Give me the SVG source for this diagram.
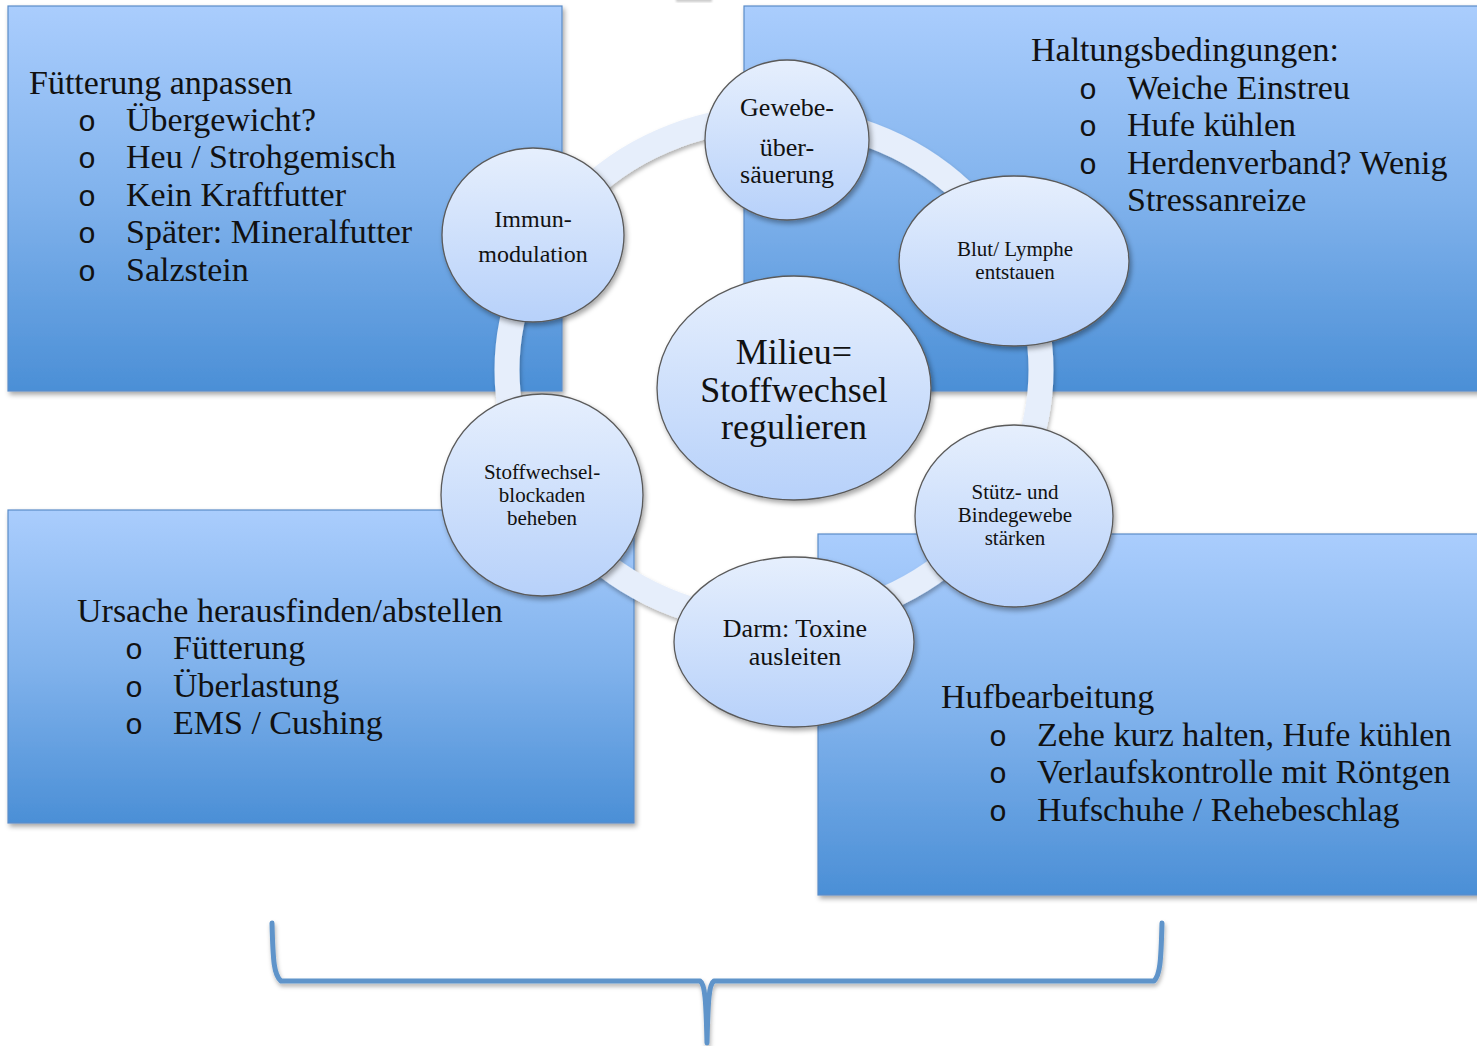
<svg xmlns="http://www.w3.org/2000/svg" width="1477" height="1046" viewBox="0 0 1477 1046">
<defs>
<linearGradient id="boxG" x1="0" y1="0" x2="0" y2="1">
<stop offset="0" stop-color="#aacdfd"/>
<stop offset="0.5" stop-color="#80b2ec"/>
<stop offset="1" stop-color="#4b8fd6"/>
</linearGradient>
<linearGradient id="nodeG" x1="0" y1="0" x2="0" y2="1">
<stop offset="0" stop-color="#e6effd"/>
<stop offset="1" stop-color="#b7d1fa"/>
</linearGradient>
<filter id="sh" x="-10%" y="-10%" width="125%" height="125%">
<feDropShadow dx="2" dy="3" stdDeviation="2.5" flood-color="#000" flood-opacity="0.35"/>
</filter>
<filter id="shs" x="-10%" y="-10%" width="125%" height="125%">
<feDropShadow dx="1" dy="3" stdDeviation="2" flood-color="#000" flood-opacity="0.3"/>
</filter>
<filter id="blur"><feGaussianBlur stdDeviation="1.2"/></filter>
</defs>
<style>
.box{fill:url(#boxG);stroke:#5a8cc8;stroke-width:1.2;filter:url(#sh)}
.node{fill:url(#nodeG);stroke:#5a5a5a;stroke-width:1.3;filter:url(#sh)}
.t{font-family:"Liberation Serif","Times New Roman",serif;fill:#111}
.b{font-family:"Liberation Mono","Courier New",monospace;fill:#111;font-size:30px}
.big{font-size:34px}
.cen{font-size:36px}
.mid{font-size:26px}
.sm{font-size:21px}
.c{text-anchor:middle}
.ring{fill:none;stroke:#e6eefb;stroke-width:25;filter:url(#shs)}
.brace{fill:none;stroke:#5f94ca;stroke-width:5;stroke-linejoin:round;stroke-linecap:round;filter:url(#shs)}
</style>
<rect width="1477" height="1046" fill="#ffffff"/>
<rect x="676" y="-2" width="36" height="4" fill="#999" opacity="0.5" filter="url(#blur)"/>

<g id="box-fuetterung">
<rect class="box" x="8" y="6" width="554" height="385"/>
<text class="t big" x="29" y="94">Fütterung anpassen</text>
<text class="b" x="78" y="131">o</text><text class="t big" x="126" y="131">Übergewicht?</text>
<text class="b" x="78" y="168">o</text><text class="t big" x="126" y="168">Heu / Strohgemisch</text>
<text class="b" x="78" y="206">o</text><text class="t big" x="126" y="206">Kein Kraftfutter</text>
<text class="b" x="78" y="243">o</text><text class="t big" x="126" y="243">Später: Mineralfutter</text>
<text class="b" x="78" y="281">o</text><text class="t big" x="126" y="281">Salzstein</text>
</g>

<g id="box-haltung">
<rect class="box" x="744" y="6" width="740" height="385"/>
<text class="t big" x="1031" y="61">Haltungsbedingungen:</text>
<text class="b" x="1079" y="99">o</text><text class="t big" x="1127" y="99">Weiche Einstreu</text>
<text class="b" x="1079" y="136">o</text><text class="t big" x="1127" y="136">Hufe kühlen</text>
<text class="b" x="1079" y="174">o</text><text class="t big" x="1127" y="174">Herdenverband? Wenig</text>
<text class="t big" x="1127" y="211">Stressanreize</text>
</g>

<g id="box-ursache">
<rect class="box" x="8" y="510" width="626" height="313"/>
<text class="t big" x="77" y="622">Ursache herausfinden/abstellen</text>
<text class="b" x="125" y="659">o</text><text class="t big" x="173" y="659">Fütterung</text>
<text class="b" x="125" y="697">o</text><text class="t big" x="173" y="697">Überlastung</text>
<text class="b" x="125" y="734">o</text><text class="t big" x="173" y="734">EMS / Cushing</text>
</g>

<g id="box-huf">
<rect class="box" x="818" y="534" width="666" height="361"/>
<text class="t big" x="941" y="708">Hufbearbeitung</text>
<text class="b" x="989" y="746">o</text><text class="t big" x="1037" y="746">Zehe kurz halten, Hufe kühlen</text>
<text class="b" x="989" y="783">o</text><text class="t big" x="1037" y="783">Verlaufskontrolle mit Röntgen</text>
<text class="b" x="989" y="821">o</text><text class="t big" x="1037" y="821">Hufschuhe / Rehebeschlag</text>
</g>

<g id="connectors">
<ellipse class="ring" cx="774" cy="370" rx="267" ry="252"/>
<path class="brace" d="M272,923 C273,962 274,975 281,981 L700,981 C705,984 706,1000 707,1043 C708,1000 709,984 714,981 L1154,981 C1160,975 1161,962 1162,923"/>
</g>

<g id="node-center">
<ellipse class="node" cx="794" cy="388" rx="137" ry="112"/>
<text class="t cen c" x="794" y="364">Milieu=</text>
<text class="t cen c" x="794" y="402">Stoffwechsel</text>
<text class="t cen c" x="794" y="439">regulieren</text>
</g>

<g id="node-immun">
<ellipse class="node" cx="533" cy="235" rx="91" ry="87"/>
<text class="t c" x="533" y="227" style="font-size:24px">Immun-</text>
<text class="t c" x="533" y="262" style="font-size:24px">modulation</text>
</g>

<g id="node-gewebe">
<ellipse class="node" cx="787" cy="140" rx="82" ry="80"/>
<text class="t mid c" x="787" y="116">Gewebe-</text>
<text class="t mid c" x="787" y="156">über-</text>
<text class="t mid c" x="787" y="183">säuerung</text>
</g>

<g id="node-blut">
<ellipse class="node" cx="1014" cy="261" rx="115" ry="85"/>
<text class="t sm c" x="1015" y="256">Blut/ Lymphe</text>
<text class="t sm c" x="1015" y="279">entstauen</text>
</g>

<g id="node-stuetz">
<ellipse class="node" cx="1014" cy="516" rx="99" ry="91"/>
<text class="t sm c" x="1015" y="499">Stütz- und</text>
<text class="t sm c" x="1015" y="522">Bindegewebe</text>
<text class="t sm c" x="1015" y="545">stärken</text>
</g>

<g id="node-darm">
<ellipse class="node" cx="794" cy="642" rx="120" ry="85"/>
<text class="t c" x="795" y="637" style="font-size:26px">Darm: Toxine</text>
<text class="t c" x="795" y="665" style="font-size:26px">ausleiten</text>
</g>

<g id="node-blockaden">
<ellipse class="node" cx="542" cy="495" rx="101" ry="101"/>
<text class="t sm c" x="542" y="479">Stoffwechsel-</text>
<text class="t sm c" x="542" y="502">blockaden</text>
<text class="t sm c" x="542" y="525">beheben</text>
</g>
</svg>
